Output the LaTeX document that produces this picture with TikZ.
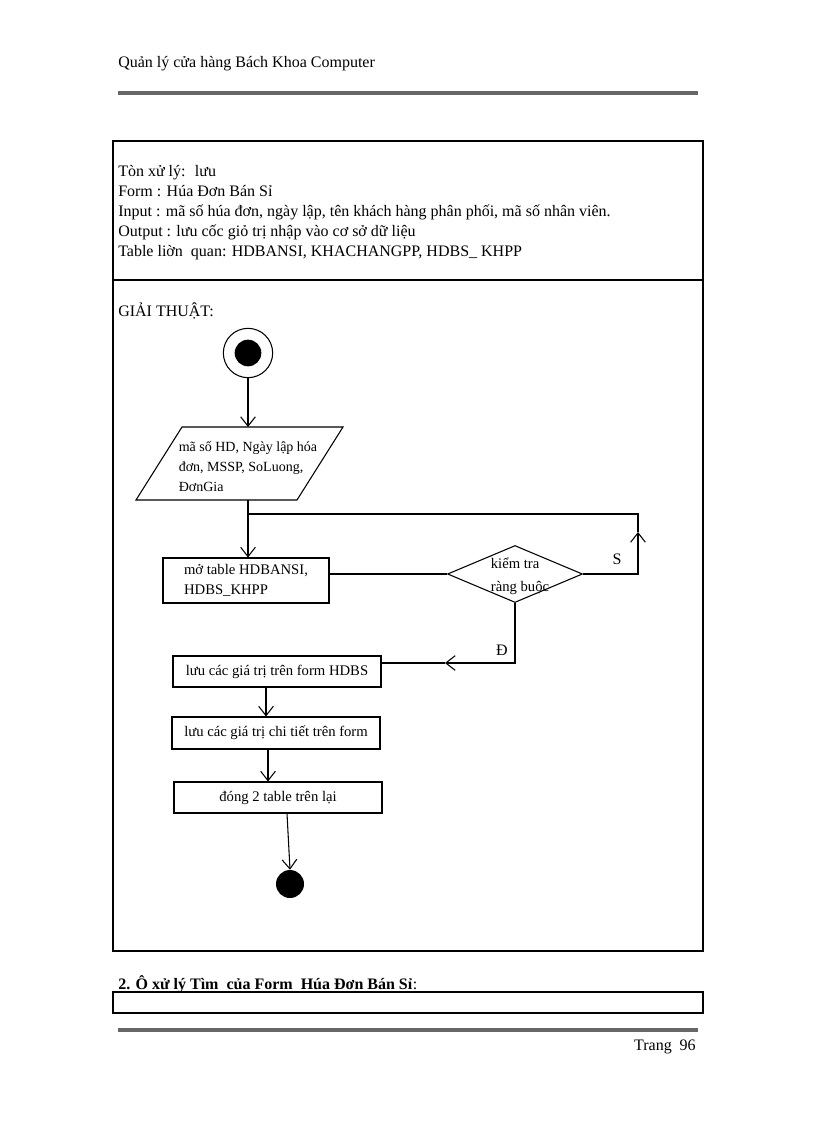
\documentclass[tikz,border=0pt]{standalone}
\usepackage{fontspec}
\setmainfont{Liberation Serif}
\usetikzlibrary{arrows.meta,shapes.geometric}
\begin{document}
\begin{tikzpicture}[x=0.75pt,y=-0.75pt,
 every node/.style={font=\fontsize{12}{15}\selectfont, inner sep=0pt},
 txt/.style={anchor=base west},
 dfont/.style={font=\fontsize{11}{15}\selectfont},
 box/.style={draw, line width=0.8pt, dfont},
 conn/.style={draw, line width=0.8pt},
 arr/.style={conn, -{Straight Barb[length=7pt,width=11pt,line width=0.8pt]}},
 frame/.style={draw, line width=1pt},
 pagerule/.style={line width=2.4pt, draw=black!60},
]
\useasboundingbox (0,0) rectangle (816,1123);

% header
\node[txt] (hdr) at (118,68) {Quản lý cửa hàng Bách Khoa Computer};
\draw[pagerule] (118,93) -- (698,93);

% frame
\draw[frame] (113,141) rectangle (703,951);
\draw[frame] (113,280) -- (703,280);

\node[txt] (i1) at (118,177) {Tòn xử lý:~ lưu};
\node[txt] (i2) at (118,197) {Form : Húa Đơn Bán Sỉ};
\node[txt] (i3) at (118,217) {Input : mã số húa đơn, ngày lập, tên khách hàng phân phối, mã số nhân viên.};
\node[txt] (i4) at (118,237) {Output : lưu cốc giỏ trị nhập vào cơ sở dữ liệu};
\node[txt] (i5) at (118,257) {Table liờn~ quan: HDBANSI, KHACHANGPP, HDBS\_ KHPP};

\node[txt] (alg) at (118,316) {GIẢI THUẬT:};

% start
\node[circle, draw, line width=0.8pt, minimum size=37pt] (start) at (248,353) {};
\node[circle, fill=black, minimum size=20pt] (startdot) at (start) {};

% input parallelogram
\coordinate (pTL) at (182,427);
\coordinate (pTR) at (343,427);
\coordinate (pBR) at (297,500);
\coordinate (pBL) at (136,500);
\coordinate (pOut) at (248,500);
\draw[conn] (pTL) -- (pTR) -- (pBR) -- (pBL) -- cycle;
\node[align=left, font=\fontsize{10.5}{15}\selectfont] (inp) at (248,466) {mã số HD, Ngày lập hóa\\ đơn, MSSP, SoLuong,\\ĐơnGia};
\draw[arr] (start.south) -- (start.south |- pTL);

% box 1
\node[box, align=left, minimum width=124.5pt, minimum height=33.75pt] (b1) at (246,580.5) {mở table HDBANSI,\\HDBS\_KHPP};
\draw[arr] (pOut) -- (pOut |- b1.north);

% decision
\node[draw, diamond, line width=0.8pt, minimum width=101.25pt, minimum height=42.75pt] (dia) at (515,574) {};
\node[align=left, dfont] (diat) at (520,576) {kiểm tra\\[2pt]ràng buộc};
\draw[conn] (dia.west -| b1.east) -- (dia.west);

% loop back (S)
\coordinate (ltop) at (638,514);
\coordinate (lup) at (638,532);
\coordinate (lj) at (248,514);
\draw[arr] (dia.east) -- (dia.east -| ltop) -- (lup);
\draw[conn] (lup) -- (ltop) -- (lj);
\node (S) at (617,559) {S};

% boxes
\node[box, minimum width=156pt, minimum height=23.25pt] (b2) at (277,671.5) {lưu các giá trị trên form HDBS};
\node[box, minimum width=156pt, minimum height=24pt] (b3) at (276,733) {lưu các giá trị chi tiết trên form};
\node[box, minimum width=156pt, minimum height=23.25pt] (b4) at (278,797.5) {đóng 2 table trên lại};

% yes branch (Đ)
\coordinate (dcorner) at (515,663);
\coordinate (dtip) at (445,663);
\draw[arr] (dia.south) -- (dcorner) -- (dtip);
\draw[conn] (dtip) -- (dtip -| b2.east);
\node (D) at (502,650) {Đ};

% end
\node[circle, fill=black, minimum size=21pt] (end) at (290,884) {};

\draw[arr] ([xshift=-8.25pt]b2.south) -- ([xshift=-8.25pt]b2.south |- b3.north);
\draw[arr] ([xshift=-6pt]b3.south) -- ([xshift=-6pt]b3.south |- b4.north);
\draw[arr] ([xshift=6.75pt]b4.south) -- (end.north);

% section 2
\node[txt, font=\bfseries\fontsize{12}{15}\selectfont] (h2) at (118,989) {2. Ô xử lý Tìm~ của Form~ Húa Đơn Bán Sỉ};
\node[txt] (h2c) at (h2.base east) {:};
\draw[line width=1.5pt] ([yshift=-2.2pt]h2.base west) -- ([yshift=-2.2pt]h2.base east);
\draw[frame] (113,992) rectangle (703,1013);

% footer
\draw[pagerule] (118,1030) -- (698,1030);
\node[anchor=base east] (pg) at (696,1050) {Trang~~96};
\end{tikzpicture}
\end{document}
